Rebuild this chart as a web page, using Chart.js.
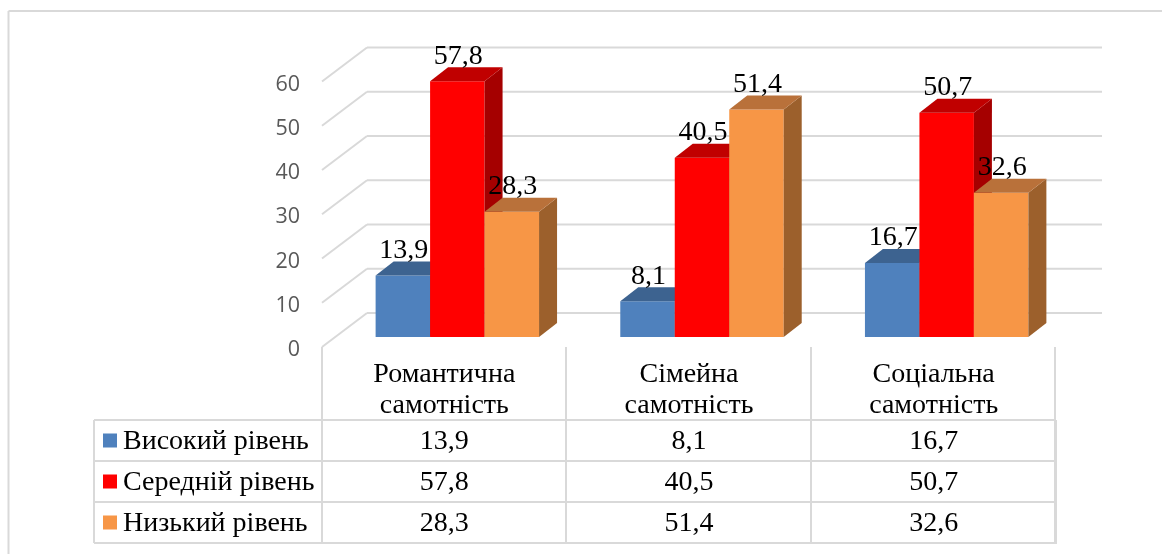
<!DOCTYPE html>
<html>
<head>
<meta charset="utf-8">
<script src="https://cdn.jsdelivr.net/npm/chart.js@4/dist/chart.umd.min.js"></script>
<style>
html, body { margin: 0; padding: 0; background: #fff; }
#wrap { width: 1162px; height: 554px; }
</style>
</head>
<body>
<div id="wrap"><canvas id="grafico"></canvas></div>
<script>
const categorias = [["Романтична", "самотність"], ["Сімейна", "самотність"], ["Соціальна", "самотність"]];
const nomesSeries = ["Високий рівень", "Середній рівень", "Низький рівень"];
const alto = [13.9, 8.1, 16.7];
const medio = [57.8, 40.5, 50.7];
const baixo = [28.3, 51.4, 32.6];
const ticksY = [0, 10, 20, 30, 40, 50, 60];

const series = [alto, medio, baixo];
const cores = ['#4f81bd', '#ff0000', '#f79646'];
const coresTopo = ['#3d6390', '#c00000', '#b9713a'];
const coresLado = ['#34547b', '#a50000', '#9c602c'];
const serif = '"Liberation Serif", serif';
const corLinha = '#d9d9d9';
const fonteTexto = 28;

// profundidade das barras e da parede
const barDx = 18, barDy = 14;
const paredeX = 322, fundoX = 367, fimGrade = 1102;
const colunas = [322, 566, 811, 1055];
const linhasTabela = [420, 461, 502, 543];
const tabelaEsq = 94;

function virgula(v) {
    return String(v).replace('.', ',');
}

function linha(ctx, x1, y1, x2, y2) {
    ctx.beginPath();
    ctx.moveTo(x1, y1);
    ctx.lineTo(x2, y2);
    ctx.stroke();
}

function face(ctx, pontos, cor) {
    ctx.fillStyle = cor;
    ctx.beginPath();
    pontos.forEach((p, i) => i ? ctx.lineTo(p[0], p[1]) : ctx.moveTo(p[0], p[1]));
    ctx.closePath();
    ctx.fill();
}

const plugin3d = {
    id: 'plugin3d',
    beforeDatasetsDraw(chart) {
        const ctx = chart.ctx;
        const y = chart.scales.y;
        ctx.save();
        ctx.strokeStyle = corLinha;
        ctx.lineWidth = 2;
        // moldura externa
        linha(ctx, 8.5, 11, 1162, 11);
        linha(ctx, 8.5, 11, 8.5, 554);
        ticksY.forEach(v => {
            const p = y.getPixelForValue(v);
            linha(ctx, paredeX, p + 10, fundoX, p - 24);
            linha(ctx, fundoX, p - 24, fimGrade, p - 24);
        });
        // tabela de dados
        colunas.forEach(x => linha(ctx, x, 347, x, linhasTabela[3]));
        linhasTabela.forEach(l => linha(ctx, tabelaEsq, l, colunas[3], l));
        linha(ctx, tabelaEsq, linhasTabela[0], tabelaEsq, linhasTabela[3]);
        ctx.lineWidth = 3;
        linha(ctx, colunas[3] + 0.5, linhasTabela[0], colunas[3] + 0.5, linhasTabela[3] + 1);
        ctx.restore();
    },
    // o Chart.js desenha a primeira serie por cima; aqui precisa ser o contrario
    beforeDatasetDraw() {
        return false;
    },
    afterDatasetsDraw(chart) {
        const ctx = chart.ctx;
        const x = chart.scales.x;
        series.forEach((s, i) => {
            const meta = chart.getDatasetMeta(i);
            meta.controller.draw();
            meta.data.forEach(bar => {
                const esq = bar.x - bar.width / 2, dir = bar.x + bar.width / 2;
                face(ctx, [[dir, bar.y], [dir + barDx, bar.y - barDy], [dir + barDx, bar.base - barDy], [dir, bar.base]], coresLado[i]);
                face(ctx, [[esq, bar.y], [esq + barDx, bar.y - barDy], [dir + barDx, bar.y - barDy], [dir, bar.y]], coresTopo[i]);
            });
        });
        ctx.save();
        ctx.font = fonteTexto + 'px ' + serif;
        ctx.fillStyle = '#000';
        ctx.textBaseline = 'middle';
        ctx.textAlign = 'center';
        // rotulos sobre as barras
        series.forEach((s, i) => {
            chart.getDatasetMeta(i).data.forEach((bar, j) => {
                ctx.fillText(virgula(s[j]), bar.x + 1, bar.y - 25);
            });
        });
        // linhas da tabela
        series.forEach((s, i) => {
            const meio = (linhasTabela[i] + linhasTabela[i + 1]) / 2;
            s.forEach((v, j) => {
                ctx.fillText(virgula(v), x.getPixelForTick(j) - 13, meio + 1.5);
            });
            ctx.textAlign = 'left';
            ctx.fillText(nomesSeries[i], 123, meio + 1.5);
            ctx.textAlign = 'center';
            ctx.fillStyle = cores[i];
            ctx.fillRect(103, meio - 7, 14, 14);
            ctx.fillStyle = '#000';
        });
        ctx.restore();
    }
};

new Chart(document.getElementById('grafico'), {
    type: 'bar',
    data: {
        labels: categorias,
        datasets: series.map((s, i) => ({
            label: nomesSeries[i],
            data: s,
            backgroundColor: cores[i],
            categoryPercentage: 0.668,
            barPercentage: 1,
            borderWidth: 0
        }))
    },
    options: {
        responsive: true,
        maintainAspectRatio: false,
        animation: false,
        devicePixelRatio: 1,
        layout: { padding: { left: 275, right: 93, top: 71.5, bottom: 0 } },
        plugins: { legend: { display: false }, tooltip: { enabled: false } },
        scales: {
            x: {
                afterFit(escala) { escala.height = 217; },
                grid: { display: false, drawTicks: false },
                border: { display: false },
                ticks: {
                    color: '#000',
                    font: { family: serif, size: fonteTexto, lineHeight: 1.107 },
                    maxRotation: 0,
                    autoSkip: false,
                    padding: 22,
                    labelOffset: -13
                }
            },
            y: {
                min: 0,
                max: 60,
                afterFit(escala) { escala.width = 60; },
                grid: { display: false, drawTicks: false },
                border: { display: false },
                ticks: {
                    stepSize: 10,
                    color: '#595959',
                    font: { family: '"Open Sans", sans-serif', size: 21.5 },
                    padding: 35,
                    labelOffset: 13
                }
            }
        }
    },
    plugins: [plugin3d]
});
</script>
</body>
</html>
